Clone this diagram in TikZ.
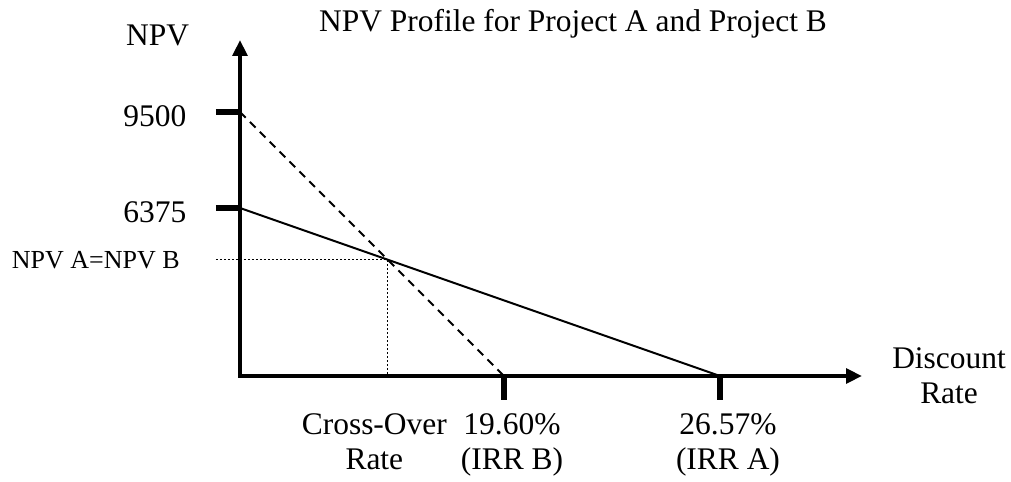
\documentclass[tikz,border=0pt]{standalone}
\usepackage{fontspec}
\setmainfont{Liberation Serif}
\usetikzlibrary{arrows.meta,positioning,intersections}

\begin{document}
\begin{tikzpicture}[x=0.75pt,y=0.75pt,
  axis/.style={line width=3pt,line join=miter,{Triangle[length=12pt,width=11pt]}-{Triangle[length=12pt,width=11pt]}},
  tickmark/.style={line width=4.5pt},
  lbl/.style={font=\fontsize{23.6}{26}\selectfont,align=center,inner sep=0pt},
  small/.style={font=\fontsize{19.5}{21}\selectfont,inner sep=0pt}]
\useasboundingbox (-240,-106) rectangle (771,376);
\coordinate (o) at (0,0); \coordinate (ytip) at (0,336); \coordinate (xtip) at (622,0);
\coordinate (b0) at (0,264); \coordinate (b1) at (-24,264); \coordinate (a0) at (0,168); \coordinate (a1) at (-24,168);
\coordinate (irrb) at (264,0); \coordinate (irrb1) at (264,-24); \coordinate (irra) at (480,0); \coordinate (irra1) at (480,-24);
% axes and ticks
\draw[axis] (ytip) -- (o) -- (xtip);
\draw[tickmark] (b1) -- (b0); \draw[tickmark] (a1) -- (a0);
\draw[tickmark] (irrb) -- (irrb1); \draw[tickmark] (irra) -- (irra1);
% npv lines
\draw[name path=projb, line width=1.5pt, dash pattern=on 6pt off 4.5pt] (b0) -- (irrb);
\draw[name path=proja, line width=1.5pt] (a0) -- (irra);
\path[name intersections={of=proja and projb, by=cross}];
\draw[line width=1.2pt, dash pattern=on 1.2pt off 1.8pt] (cross -| b1) -- (cross) -- (cross |- o);
\coordinate (cross1) at (cross |- irrb1);
% labels
\node[lbl, base left=38pt of ytip, yshift=-4pt] (npv) {NPV};
\node[lbl, anchor=base] (title) at (333,344) {NPV Profile for Project A and Project B};
\node[lbl, left=22pt of b1, yshift=-3pt] (l9500) {9500};
\node[lbl, left=22pt of a1, yshift=-3pt] (l6375) {6375};
\node[small, left=27pt of cross -| b1] (lequal) {NPV A=NPV B};
\node[lbl, right=22.5pt of xtip] (xlabel) {Discount\\Rate};
\node[lbl, below=10pt of cross1, xshift=-10pt] (lcross) {Cross-Over\\Rate};
\node[lbl, below=10pt of irrb1, xshift=6pt] (lirrb) {19.60\%\\(IRR B)};
\node[lbl, below=10pt of irra1, xshift=6pt] (lirra) {26.57\%\\(IRR A)};
\end{tikzpicture}
\end{document}
